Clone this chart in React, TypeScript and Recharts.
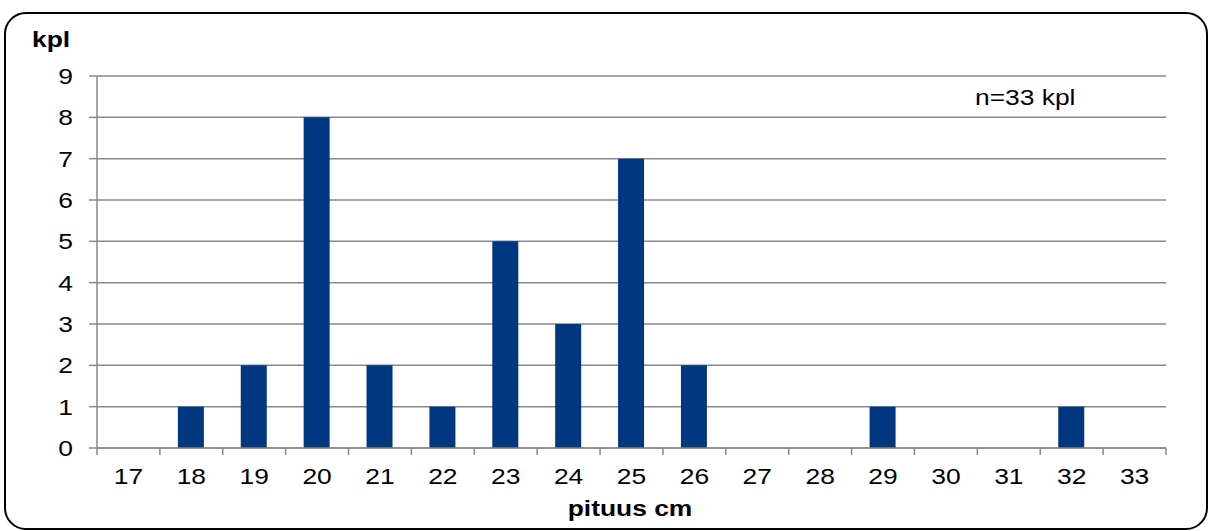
import React from 'react';
import { BarChart, Bar, XAxis, YAxis, CartesianGrid } from 'recharts';

// fish length classes (cm) and how many fish fell into each
const LENGTHS = [17, 18, 19, 20, 21, 22, 23, 24, 25, 26, 27, 28, 29, 30, 31, 32, 33];
const COUNTS = [0, 1, 2, 8, 2, 1, 5, 3, 7, 2, 0, 0, 1, 0, 0, 1, 0];
const Y_TICKS = [0, 1, 2, 3, 4, 5, 6, 7, 8, 9];

const data = LENGTHS.map((cm, i) => ({ cm, kpl: COUNTS[i] }));

const W = 1209;
const H = 531;
const MARGIN = { top: 76, right: 43, left: 0, bottom: 0 };
const Y_AXIS_W = 97;
const FONT = '"Liberation Sans", Arial, Helvetica, sans-serif';
const STRETCH = 1.2; // text is drawn a bit wide
const GRID = '#898989';
const BAR = '#00377f';

// half of one category band, used to put tick marks between the classes
const HALF_BAND = (W - MARGIN.left - MARGIN.right - Y_AXIS_W) / LENGTHS.length / 2;

const YTick = (props: any) => {
  const { x, y, payload } = props;
  return (
    <text
      transform={`translate(${x},${y + 8}) scale(${STRETCH},1)`}
      textAnchor="end"
      fontSize={22}
      fontFamily={FONT}
      fill="#000"
    >
      {payload.value}
    </text>
  );
};

const XTick = (props: any) => {
  const { x, y, payload, index } = props;
  const last = index === LENGTHS.length - 1;
  return (
    <g>
      <line x1={x - HALF_BAND} x2={x - HALF_BAND} y1={y} y2={y + 7} stroke={GRID} strokeWidth={1.5} />
      {last && (
        <line x1={x + HALF_BAND} x2={x + HALF_BAND} y1={y} y2={y + 7} stroke={GRID} strokeWidth={1.5} />
      )}
      <text
        transform={`translate(${x},${y + 36}) scale(${STRETCH},1)`}
        textAnchor="middle"
        fontSize={22}
        fontFamily={FONT}
        fill="#000"
      >
        {payload.value}
      </text>
    </g>
  );
};

const App: React.FC = () => {
  return (
    <div style={{ position: 'absolute', left: 0, top: 0, width: W, height: H, background: '#fff' }}>
      <div
        style={{
          position: 'absolute',
          left: 4,
          top: 12,
          width: 1204,
          height: 518,
          boxSizing: 'border-box',
          border: '2px solid #000',
          borderRadius: 22,
        }}
      />
      <div style={{ position: 'absolute', left: 0, top: 0 }}>
        <BarChart width={W} height={H} data={data} margin={MARGIN}>
          <CartesianGrid vertical={false} stroke={GRID} strokeWidth={1.5} />
          <XAxis
            dataKey="cm"
            height={83}
            interval={0}
            axisLine={{ stroke: GRID, strokeWidth: 1.5 }}
            tickLine={false}
            tickSize={0}
            tickMargin={0}
            tick={<XTick />}
          />
          <YAxis
            width={Y_AXIS_W}
            domain={[0, 9]}
            ticks={Y_TICKS}
            interval={0}
            axisLine={{ stroke: GRID, strokeWidth: 1.5 }}
            tickLine={{ stroke: GRID, strokeWidth: 1.5 }}
            tickSize={8}
            tickMargin={16}
            tick={<YTick />}
          />
          <Bar dataKey="kpl" fill={BAR} barSize={26} isAnimationActive={false} />
        </BarChart>
      </div>
      <svg
        width={W}
        height={H}
        style={{ position: 'absolute', left: 0, top: 0, pointerEvents: 'none' }}
        fontFamily={FONT}
        fontSize={22}
      >
        <text transform={`translate(32,47) scale(${STRETCH},1)`} fontWeight="bold">
          kpl
        </text>
        <text transform={`translate(975,105) scale(${STRETCH},1)`}>n=33 kpl</text>
        <text transform={`translate(630,516) scale(${STRETCH},1)`} textAnchor="middle" fontWeight="bold">
          pituus cm
        </text>
      </svg>
    </div>
  );
};

export default App;
